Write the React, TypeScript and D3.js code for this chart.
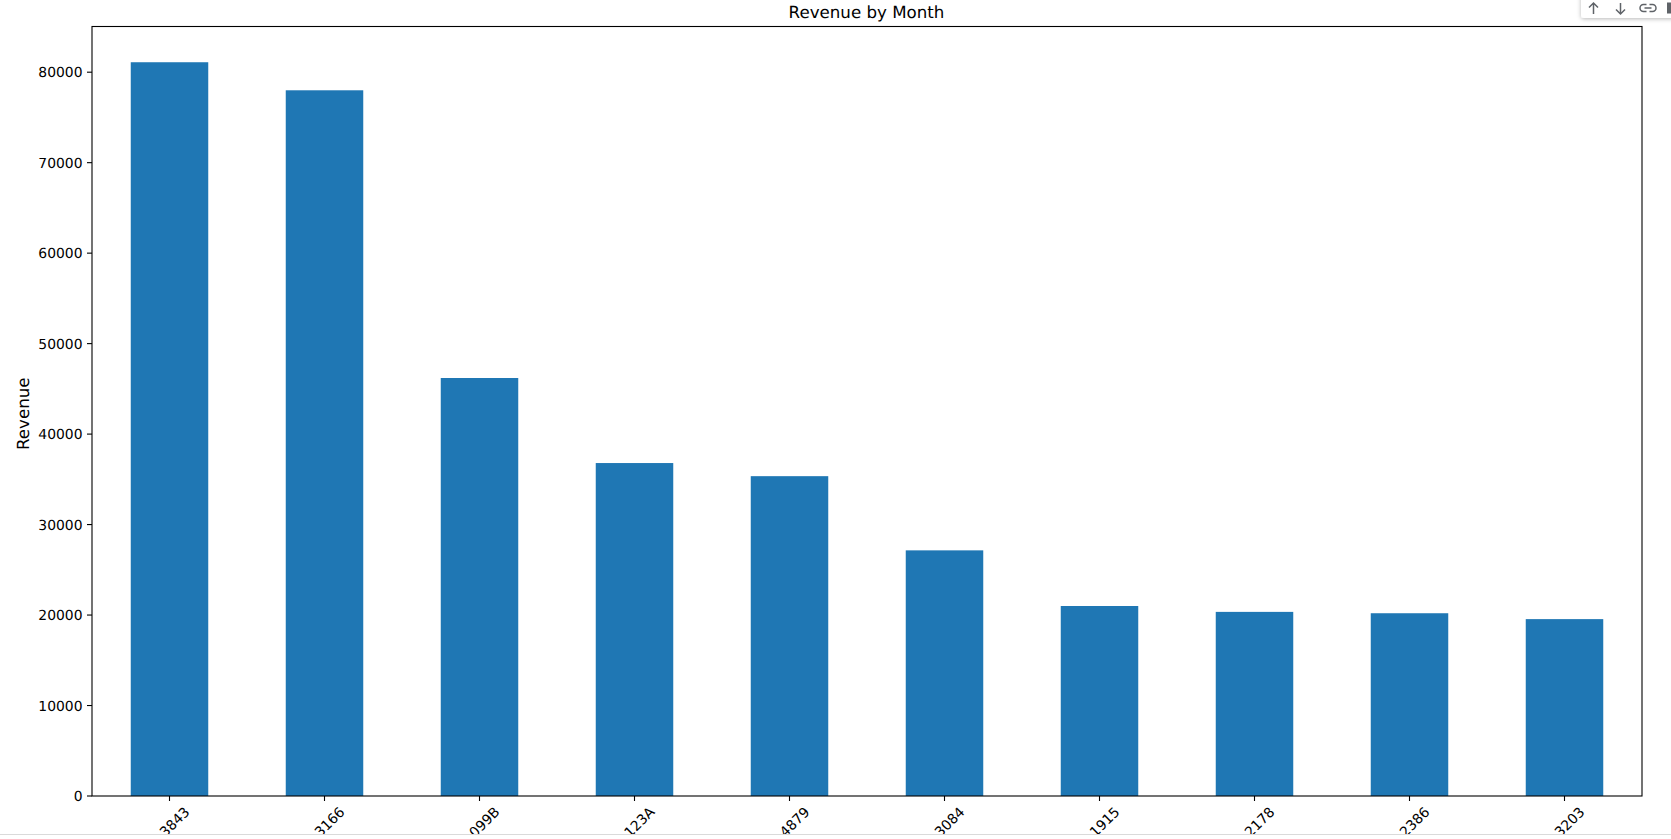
import React from "react";
import * as d3 from "d3";

const categories = ["3843", "3166", "099B", "123A", "4879", "3084", "1915", "2178", "2386", "3203"];
const revenue = [81100, 78000, 46200, 36800, 35350, 27150, 21000, 20350, 20200, 19550];
const yTicks = [0, 10000, 20000, 30000, 40000, 50000, 60000, 70000, 80000];

const W = 1671, H = 839;
const m = { l: 92, r: 1642, t: 26.5, b: 796 };
const font = "'DejaVu Sans', sans-serif";

export default function App() {
  const x = d3.scaleBand<string>().domain(categories).range([m.l, m.r]).paddingInner(0.5).paddingOuter(0.25);
  const y = d3.scaleLinear().domain([0, 85050]).range([m.b, m.t]);
  const clipBottom = 834;
  return (
    <svg width={W} height={H} style={{ position: "fixed", left: 0, top: 0, background: "#fff", textRendering: "geometricPrecision" }} fontFamily={font}>
      <defs>
        <clipPath id="page"><rect x={0} y={0} width={W} height={clipBottom} /></clipPath>
        <filter id="sh" x="-10%" y="-30%" width="120%" height="170%">
          <feDropShadow dx="0" dy="1" stdDeviation="2" floodColor="#000" floodOpacity="0.28" />
        </filter>
      </defs>
      <text x={(m.l + m.r) / 2 - 0.5} y={18} textAnchor="middle" fontSize={16.67} fill="#000">Revenue by Month</text>
      {categories.map((c, i) => (
        <rect key={c} x={x(c)} y={y(revenue[i])} width={x.bandwidth()} height={m.b - y(revenue[i])} fill="#1f77b4" />
      ))}
      <rect x={m.l} y={m.t} width={m.r - m.l} height={m.b - m.t} fill="none" stroke="#000" strokeWidth={1.1} />
      {yTicks.map(t => (
        <g key={t} transform={`translate(0,${y(t)})`}>
          <line x1={m.l - 5} x2={m.l} stroke="#000" strokeWidth={1.1} />
          <text x={m.l - 9.5} dy="0.36em" textAnchor="end" fontSize={13.89} fill="#000">{t}</text>
        </g>
      ))}
      <text transform={`translate(29,${(m.t + m.b) / 2 + 2.5}) rotate(-90)`} textAnchor="middle" fontSize={16.67} fill="#000">Revenue</text>
      <g clipPath="url(#page)">
        {categories.map(c => {
          const cx = x(c)! + x.bandwidth() / 2;
          return (
            <g key={c}>
              <line x1={cx} x2={cx} y1={m.b} y2={m.b + 5} stroke="#000" strokeWidth={1.1} />
              <text transform={`translate(${cx + 14},${m.b + 10}) rotate(-45)`} textAnchor="end" dy="0.7em" fontSize={13.89} fill="#000">{c}</text>
            </g>
          );
        })}
      </g>
      <line x1={0} x2={W} y1={834.5} y2={834.5} stroke="#dadada" strokeWidth={1} />
      <rect x={1581} y={-8} width={100} height={26} rx={3} fill="#fff" filter="url(#sh)" />
      <g fill="none" stroke="#5f6368" strokeWidth={1.5}>
        <path d="M1593.5 14V3M1589 7.5L1593.5 3L1598 7.5" />
        <path d="M1620.5 3V14M1616 9.5L1620.5 14L1625 9.5" />
        <path d="M1646.5 4.5H1643.5a3.2 3.2 0 0 0 0 7h3M1649.5 4.5h3a3.2 3.2 0 0 1 0 7h-3M1644.5 8h7" />
      </g>
      <rect x={1667} y={2.5} width={4} height={11} fill="#5f6368" />
    </svg>
  );
}
